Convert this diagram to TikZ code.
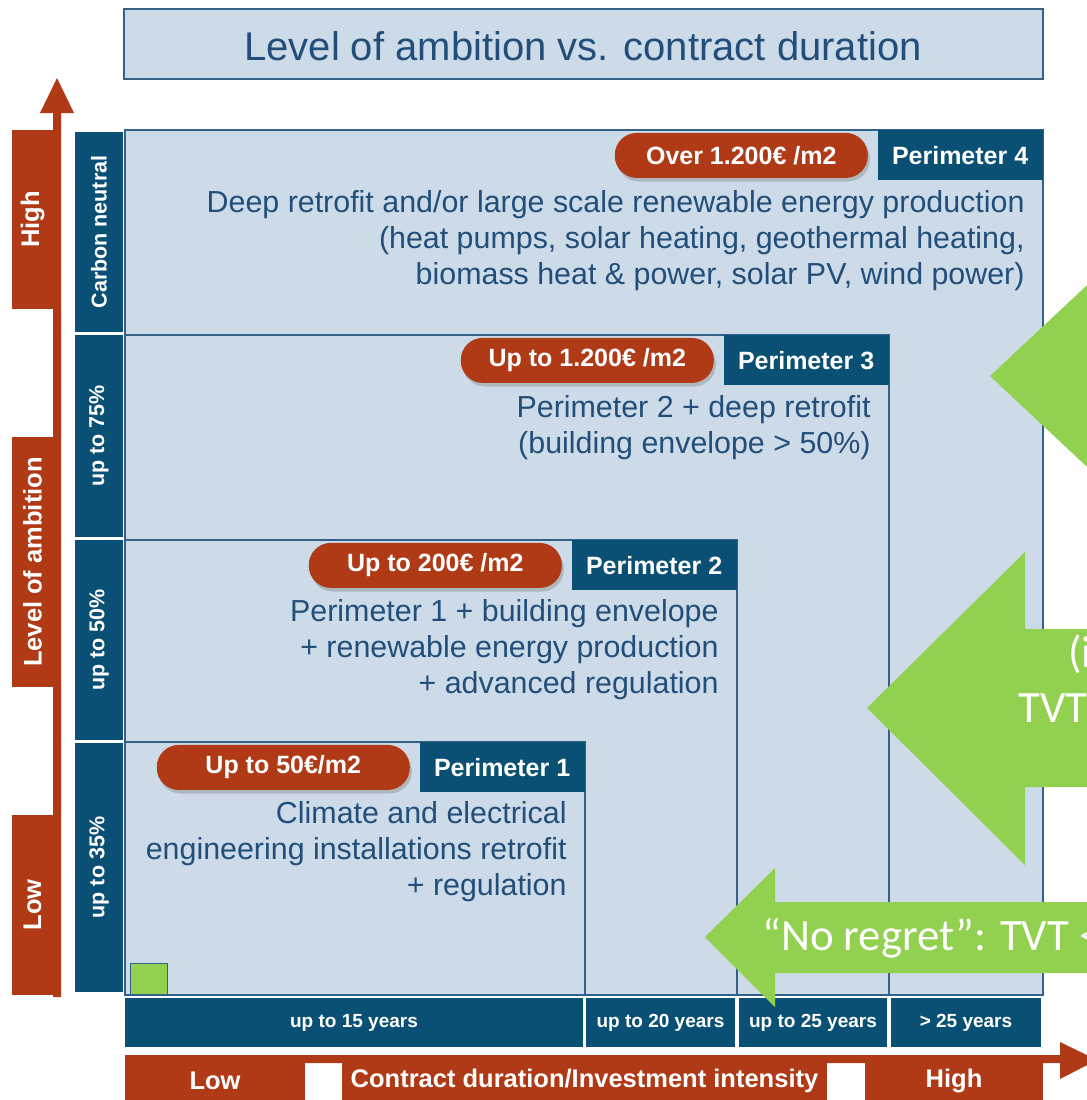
\documentclass[tikz,border=0pt]{standalone}
\usepackage{fontspec}
\setmainfont{Liberation Sans}
\newfontfamily\calibfont{Carlito}
\usetikzlibrary{positioning,shadows}
\definecolor{rustred}{RGB}{176,57,22}
\definecolor{tabblue}{RGB}{10,80,117}
\definecolor{paleblue}{RGB}{205,219,232}
\definecolor{edgeblue}{RGB}{50,98,138}
\definecolor{inkblue}{RGB}{33,78,122}
\definecolor{leafgreen}{RGB}{146,208,80}
\begin{document}
\begin{tikzpicture}[x=0.5pt,y=-0.5pt,
  zone/.style={draw=edgeblue,line width=0.8pt},
  tab/.style={fill=tabblue,text=white,inner sep=0pt,minimum width=82.5pt,minimum height=25pt,font=\fontsize{12.5}{14}\selectfont\bfseries},
  pill/.style={fill=rustred,text=white,rounded corners=11pt,inner sep=0pt,minimum width=126.5pt,minimum height=22.5pt,font=\fontsize{12.5}{14}\selectfont\bfseries,drop shadow={opacity=0.4,shadow xshift=1pt,shadow yshift=-1.8pt}},
  desc/.style={align=right,inner sep=0pt,text=inkblue,font=\fontsize{15.2}{18}\selectfont},
  rowlabel/.style={text=white,rotate=90,font=\fontsize{10.75}{12}\selectfont\bfseries},
  axislabel/.style={text=white,font=\fontsize{12.75}{14}\selectfont\bfseries},
  yearlabel/.style={text=white,font=\fontsize{9.5}{11}\selectfont\bfseries},
  greentext/.style={text=white,inner sep=0pt,font=\calibfont\fontsize{22.4}{26}\selectfont}]
  \clip (0,0) rectangle (1087,1100);

  \draw[zone,fill=paleblue] (124,9) rectangle (1043,79);
  \node[text=inkblue,font=\fontsize{20}{24}\selectfont] (title) at (583,46) {Level of ambition vs. contract duration};

  \draw[zone,fill=paleblue] (125,130) rectangle (1043,995);
  \draw[zone] (125,335) rectangle (889,995);
  \draw[zone] (125,540) rectangle (737,995);
  \draw[zone] (125,742) rectangle (585,995);

  \node[tab,anchor=north east] (per4) at (1043,130) {Perimeter 4};
  \node[tab,anchor=north east] (per3) at (889,335) {Perimeter 3};
  \node[tab,anchor=north east] (per2) at (737,540) {Perimeter 2};
  \node[tab,anchor=north east] (per1) at (585,742) {Perimeter 1};

  \node[pill,left=4.5pt of per4] (cost4) {Over 1.200€ /m2};
  \node[pill,left=4.5pt of per3] (cost3) {Up to 1.200€ /m2};
  \node[pill,left=4.5pt of per2] (cost2) {Up to 200€ /m2};
  \node[pill,left=4.5pt of per1] (cost1) {Up to 50€/m2};

  \node[desc,below left=4.5pt and 9pt of per4.south east] (work4) {Deep retrofit and/or large scale renewable energy production\\(heat pumps, solar heating, geothermal heating,\\biomass heat \& power, solar PV, wind power)};
  \node[desc,below left=4.5pt and 9pt of per3.south east] (work3) {Perimeter 2 + deep retrofit\\(building envelope > 50\%)};
  \node[desc,below left=4pt and 9pt of per2.south east] (work2) {Perimeter 1 + building envelope\\+ renewable energy production\\+ advanced regulation};
  \node[desc,below left=4pt and 9pt of per1.south east] (work1) {Climate and electrical\\engineering installations retrofit\\+ regulation};

  \fill[tabblue] (75,132) rectangle node[rowlabel] (row4) {Carbon neutral} (123,332);
  \fill[tabblue] (75,335) rectangle node[rowlabel] (row3) {up to 75\%} (123,537);
  \fill[tabblue] (75,540) rectangle node[rowlabel] (row2) {up to 50\%} (123,740);
  \fill[tabblue] (75,743) rectangle node[rowlabel] (row1) {up to 35\%} (123,992);

  \fill[rustred] (53,997) -- (53,113) -- (40,113) -- (57,78) -- (74,113) -- (61,113) -- (61,997) -- cycle;
  \fill[rustred] (12,130) rectangle node[axislabel,rotate=90] (high) {High} (53,309);
  \fill[rustred] (12,437) rectangle node[axislabel,rotate=90] (ambition) {Level of ambition} (53,687);
  \fill[rustred] (12,815) rectangle node[axislabel,rotate=90] (low) {Low} (53,995);

  \fill[tabblue] (125,998) rectangle node[yearlabel] (yr15) {up to 15 years} (583,1047);
  \fill[tabblue] (586,998) rectangle node[yearlabel] (yr20) {up to 20 years} (735,1047);
  \fill[tabblue] (739,998) rectangle node[yearlabel] (yr25) {up to 25 years} (887,1047);
  \fill[tabblue] (891,998) rectangle node[yearlabel] (yr30) {> 25 years} (1041,1047);

  \fill[rustred] (125,1055) -- (1060,1055) -- (1060,1042) -- (1097,1060) -- (1060,1079) -- (1060,1063) -- (125,1063) -- cycle;
  \fill[rustred] (125,1055) rectangle node[axislabel] (lowx) {Low} (305,1107);
  \fill[rustred] (342,1055) rectangle node[axislabel] (intensity) {Contract duration/Investment intensity} (827,1107);
  \fill[rustred] (865,1055) rectangle node[axislabel] (highx) {High} (1043,1107);

  \draw[fill=leafgreen,draw=edgeblue] (130,963) rectangle (167,994);

  \fill[leafgreen] (990,376) -- (1100,273) -- (1100,479) -- cycle;
  \fill[leafgreen] (867,708) -- (1025,552) -- (1025,629) -- (1100,629) -- (1100,787) -- (1025,787) -- (1025,865) -- cycle;
  \fill[leafgreen] (705,937) -- (775,868) -- (775,902) -- (1100,902) -- (1100,973) -- (775,973) -- (775,1007) -- cycle;

  \node[greentext,anchor=base west] (incl) at (1068,667) {(i};
  \node[greentext,anchor=base west] (tvt) at (1018,722) {TVT};
  \node[greentext,anchor=base west] (regret) at (762,950) {“No regret”: TVT <};
\end{tikzpicture}
\end{document}
